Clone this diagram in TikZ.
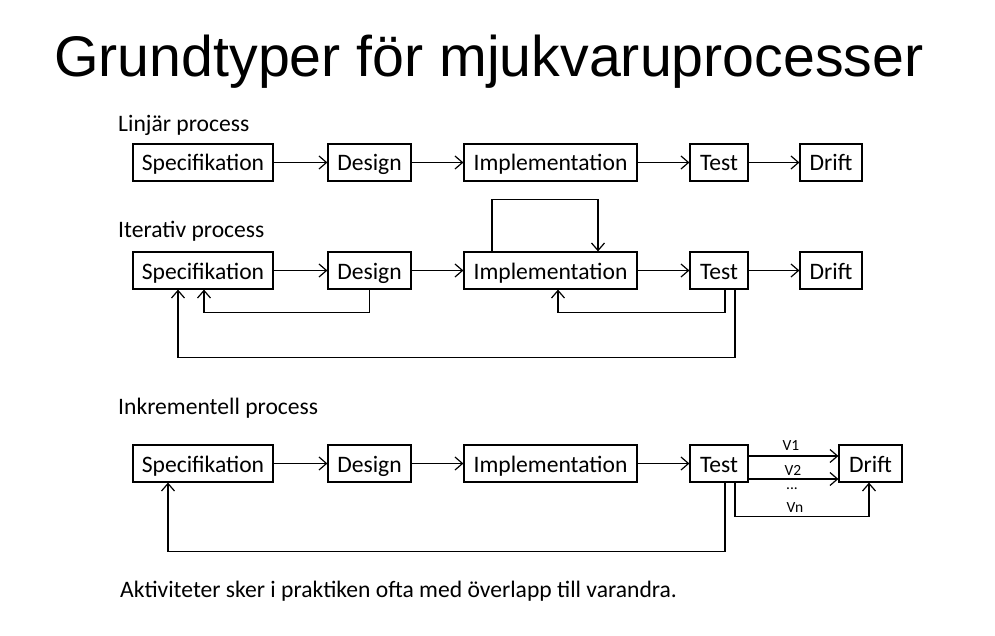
\documentclass[tikz,border=0pt]{standalone}
\usepackage{fontspec}
\usetikzlibrary{arrows.meta}
\setmainfont{Carlito}
\newfontfamily\titlefont{Liberation Sans}
\begin{document}
\begin{tikzpicture}[x=1pt,y=-1pt,
  box/.style={draw, line width=1.2pt, minimum height=37pt, inner sep=0pt, text height=17pt, text depth=0pt, font=\fontsize{23.6}{28}\selectfont},
  conn/.style={line width=1.2pt, -{Straight Barb[length=7.5pt,width=13pt,line width=1.2pt]}},
  lbl/.style={font=\fontsize{23.6}{28}\selectfont, anchor=base west, inner sep=0pt},
  vlbl/.style={font=\fontsize{15.5}{18}\selectfont, inner sep=0pt}]
\useasboundingbox[fill=white] (0,0) rectangle (995,636);
\node[anchor=base west, inner sep=0pt, font=\titlefont\fontsize{57.3}{64}\selectfont] (title) at (54,77) {Grundtyper för mjukvaruprocesser};
% Linear
\node[lbl] (l1) at (118,132) {Linjär process};
\node[box, minimum width=140pt] (s1) at (203,162.5) {Specifikation};
\node[box, minimum width=83pt] (d1) at (369.5,162.5) {Design};
\node[box, minimum width=173pt] (i1) at (550.5,162.5) {Implementation};
\node[box, minimum width=58pt] (t1) at (719,162.5) {Test};
\node[box, minimum width=62pt] (r1) at (831,162.5) {Drift};
\draw[conn] (s1) -- (d1);
\draw[conn] (d1) -- (i1);
\draw[conn] (i1) -- (t1);
\draw[conn] (t1) -- (r1);
% Iterative
\node[lbl] (l2) at (118,238) {Iterativ process};
\node[box, minimum width=140pt] (s2) at (203,270.5) {Specifikation};
\node[box, minimum width=83pt] (d2) at (369.5,270.5) {Design};
\node[box, minimum width=173pt] (i2) at (550.5,270.5) {Implementation};
\node[box, minimum width=58pt] (t2) at (719,270.5) {Test};
\node[box, minimum width=62pt] (r2) at (831,270.5) {Drift};
\draw[conn] (s2) -- (d2);
\draw[conn] (d2) -- (i2);
\draw[conn] (i2) -- (t2);
\draw[conn] (t2) -- (r2);
\draw[conn] ([xshift=-58.5pt]i2.north) -- ++(0,-52) -| ([xshift=47.5pt]i2.north);
\draw[conn] (d2.south) -- ++(0,23) -| ([xshift=1pt]s2.south);
\draw[conn] ([xshift=6pt]t2.south) -- ++(0,23) -| ([xshift=7.5pt]i2.south);
\draw[conn] ([xshift=16pt]t2.south) -- ++(0,68) -| ([xshift=-25pt]s2.south);
% Incremental
\node[lbl] (l3) at (118,414) {Inkrementell process};
\node[box, minimum width=140pt] (s3) at (203,463.5) {Specifikation};
\node[box, minimum width=83pt] (d3) at (369.5,463.5) {Design};
\node[box, minimum width=173pt] (i3) at (550.5,463.5) {Implementation};
\node[box, minimum width=58pt] (t3) at (719,463.5) {Test};
\node[box, minimum width=63pt] (r3) at (870.5,463.5) {Drift};
\draw[conn] (s3) -- (d3);
\draw[conn] (d3) -- (i3);
\draw[conn] (i3) -- (t3);
\draw[conn] ([yshift=7.5pt]t3.east) -- ([yshift=7.5pt]r3.west);
\draw[conn] ([yshift=-15.5pt]t3.east) -- ([yshift=-15.5pt]r3.west);
\draw[conn] ([xshift=16pt]t3.south) -- ++(0,34) -| ([xshift=-1.5pt]r3.south);
\draw[conn] ([xshift=6pt]t3.south) -- ++(0,69) -| ([xshift=-35pt]s3.south);
\node[vlbl] (v1) at (791,446) {V1};
\node[vlbl] (v2) at (793,470) {V2};
\node[vlbl] (vd) at (792,489) {...};
\node[vlbl] (vn) at (795,508) {Vn};
\node[lbl] (note) at (120,597) {Aktiviteter sker i praktiken ofta med överlapp till varandra.};
\end{tikzpicture}
\end{document}
